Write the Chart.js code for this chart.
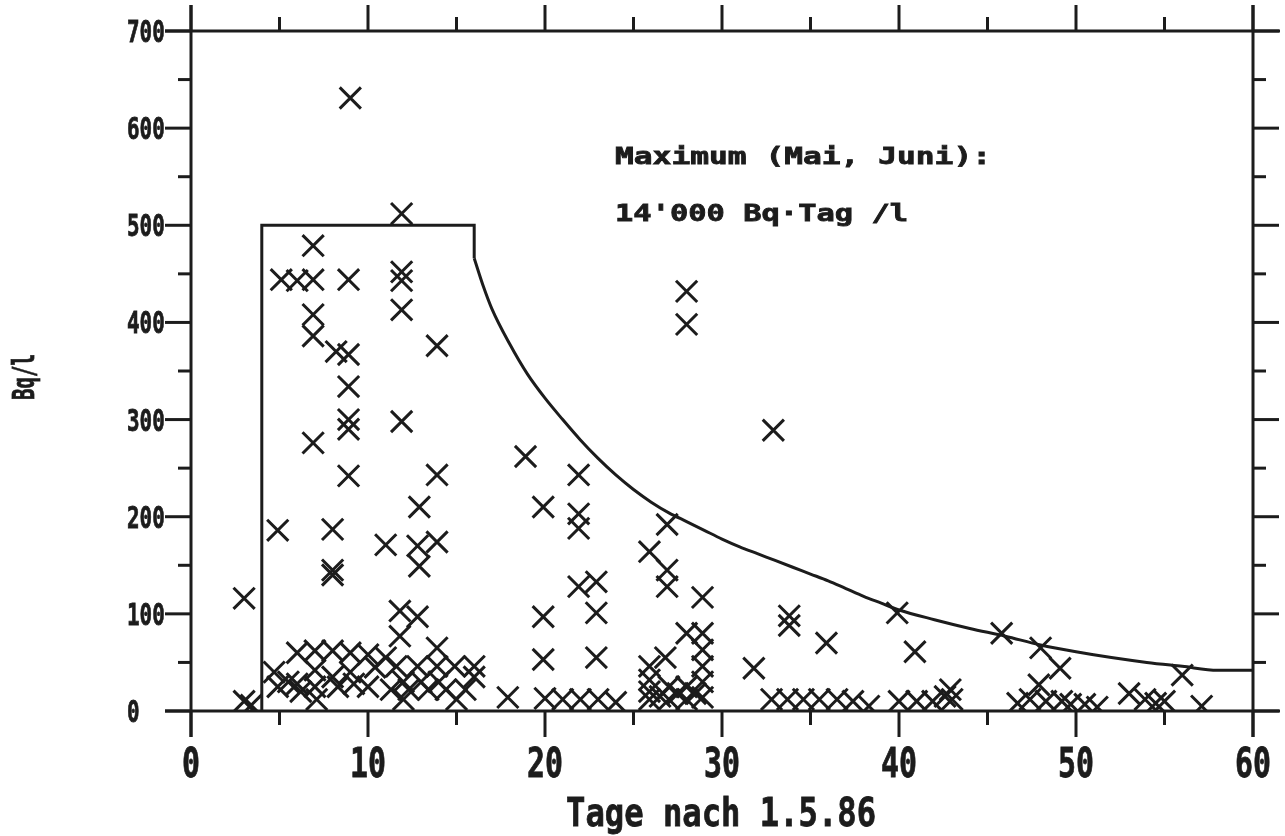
<!DOCTYPE html>
<html>
<head>
<meta charset="utf-8">
<script src="https://cdn.jsdelivr.net/npm/chart.js@4/dist/chart.umd.min.js"></script>
<style>
    html, body { margin: 0; padding: 0; background: #fff; }
    canvas { display: block; }
</style>
</head>
<body>
<canvas id="chart-bq" width="1285" height="836"></canvas>
<script>
// Messwerte: Tage nach 1.5.86 / Bq pro Liter
const messTage = [
    9, 11.9, 6.9, 5.1, 6.0, 6.9, 8.9, 11.9, 11.9, 11.9, 6.9, 6.9, 8.2, 8.9, 8.9, 8.9, 8.9,
    11.9, 6.9, 8.9, 13.9, 13.9, 18.9, 12.9, 19.9, 4.9, 8.0, 8.0, 8.0, 11.0, 12.8, 13.9, 12.9,
    3.0, 11.8, 12.8, 11.8, 19.9, 19.9, 21.9, 21.9, 21.9, 26.9, 25.9, 26.9, 26.9, 21.9, 22.9,
    22.9, 22.9, 28.9, 28.0, 28.0, 32.9, 28.0, 28.9, 28.9, 28.9, 28.9, 26.8, 25.9, 31.8,
    33.8, 33.8, 35.9, 39.9, 40.9, 45.8, 48.0, 49.1, 47.9, 56.0, 53.0,
    3.0, 3.4,
    4.7, 4.9, 5.5, 6.0, 6.0, 6.2, 7.0, 7.0, 7.0, 7.1, 8.0, 8.0, 8.3, 9.0, 9.0, 9.2,
    10.0, 10.0, 10.4, 11.0, 11.3, 11.6, 12.0, 12.3, 12.0, 12.8, 13.0, 13.4,
    13.9, 13.9, 14.0, 14.4, 14.9, 15.0, 15.5, 16.0, 16.0,
    17.9, 20.0, 21.0, 22.0, 23.0, 24.0,
    25.9, 25.9, 25.9, 26.5, 27.0, 27.0, 27.5, 28.0, 28.0, 28.5, 28.9,
    32.8, 33.7, 34.6, 35.5, 36.5, 37.4, 38.3,
    40.0, 41.0, 41.9, 42.9, 43.0, 42.6,
    46.7, 47.4, 48.3, 49.2, 49.7, 50.5, 51.2,
    53.9, 54.5, 55.0, 57.1
];
const messWerte = [
    631, 512, 479, 444, 443, 444, 444, 452, 443, 413, 408, 386, 370, 367, 334, 300, 290,
    298, 276, 242, 376, 243, 262, 210, 210, 186, 187, 145, 140, 171, 170, 174, 149,
    116, 103, 97, 77, 97, 53, 243, 203, 188, 192, 164, 145, 128, 128, 133,
    101, 55, 117, 432, 398, 289, 80, 80, 63, 46, 30, 55, 46, 44,
    98, 88, 70, 101, 61, 80, 65, 44, 27, 37, 18,
    10, 6,
    40, 25, 30, 60, 28, 20, 62, 42, 25, 12, 62, 35, 25, 60, 40, 28,
    58, 25, 45, 55, 22, 46, 30, 22, 12, 46, 30, 22,
    65, 46, 30, 22, 46, 12, 22, 46, 35,
    14, 13, 12, 12, 12, 9,
    32, 20, 12, 15, 25, 12, 18, 25, 12, 18, 14,
    12, 12, 12, 12, 12, 10, 5,
    10, 10, 10, 22, 12, 15,
    8, 12, 10, 10, 7, 7, 4,
    12, 8, 10, 5
];

// Grenze: Rechteck bis Tag 16, danach abklingende Kurve (Maximum Mai, Juni)
const kastenTage = [4, 4, 16, 16];
const kastenWerte = [0, 500, 500, 466];
const kurveTage = [16, 16.5, 17, 18, 19, 20, 21, 22, 23, 24, 25, 26, 27, 28, 29, 30, 31, 32,
    33, 34, 35, 36, 37, 38, 39, 40, 42, 44, 46, 48, 50, 52, 54, 56, 58, 60];
const kurveWerte = [466, 438, 414, 378, 347, 322, 300, 279, 260, 243, 228, 215, 204, 195,
    186, 177, 169, 162, 155, 148, 141, 134, 126, 118, 111, 104, 94, 85, 77, 68, 61, 55, 50, 46, 42, 42];

const xTicks = [0, 5, 10, 15, 20, 25, 30, 35, 40, 45, 50, 55, 60];
const yTicks = [0, 50, 100, 150, 200, 250, 300, 350, 400, 450, 500, 550, 600, 650, 700];
const xLabels = ['0', '10', '20', '30', '40', '50', '60'];
const yLabels = ['0', '100', '200', '300', '400', '500', '600', '700'];

const INK = '#1c1c1c';
const FONT = '"DejaVu Sans Mono", "Liberation Mono", monospace';

function line(ctx, x1, y1, x2, y2) {
    ctx.beginPath();
    ctx.moveTo(x1, y1);
    ctx.lineTo(x2, y2);
    ctx.stroke();
}

// draws bold mono text squeezed/stretched to a given width and cap height
function fitText(ctx, text, x, baseY, capH, width, align) {
    ctx.save();
    ctx.font = `bold ${capH / 0.73}px ${FONT}`;
    const w = ctx.measureText(text).width;
    ctx.translate(x, baseY);
    ctx.scale(width / w, 1);
    ctx.textAlign = align;
    ctx.textBaseline = 'alphabetic';
    ctx.fillStyle = INK;
    ctx.strokeStyle = INK;
    ctx.lineWidth = 0.8;
    ctx.fillText(text, 0, 0);
    ctx.strokeText(text, 0, 0);
    ctx.restore();
}

const rahmen = {
    id: 'rahmen',
    afterDatasetsDraw(chart) {
        const { ctx, chartArea: a, scales: { x, y } } = chart;
        ctx.save();
        ctx.strokeStyle = INK;
        ctx.lineWidth = 3;

        // Achsen, um die Strichlaenge verlaengert
        line(ctx, a.left - 26, a.top, a.right + 27, a.top);
        line(ctx, a.left - 26, a.bottom, a.right + 27, a.bottom);
        line(ctx, a.left, a.top - 26, a.left, a.bottom + 26);
        line(ctx, a.right, a.top - 26, a.right, a.bottom + 26);

        xTicks.forEach(v => {
            const px = x.getPixelForValue(v);
            const len = v % 10 === 0 ? 26 : 14;
            line(ctx, px, a.bottom, px, a.bottom + len);
            line(ctx, px, a.top, px, a.top - len);
        });
        yTicks.forEach(v => {
            const py = y.getPixelForValue(v);
            const len = v % 100 === 0 ? 26 : 13;
            line(ctx, a.left, py, a.left - len, py);
            line(ctx, a.right, py, a.right + len, py);
        });

        // Beschriftung
        xLabels.forEach(t => {
            const px = x.getPixelForValue(Number(t));
            fitText(ctx, t, px, 777, 30, t.length * 18, 'center');
        });
        yLabels.forEach(t => {
            const py = y.getPixelForValue(Number(t));
            fitText(ctx, t, 127, py + 11, 22, t.length * 12.6, 'left');
        });

        fitText(ctx, 'Tage nach 1.5.86', 721, 826, 28, 310, 'center');

        ctx.save();
        ctx.translate(34, 377);
        ctx.rotate(-Math.PI / 2);
        fitText(ctx, 'Bq/l', 0, 0, 22, 46, 'center');
        ctx.restore();

        fitText(ctx, 'Maximum (Mai, Juni):', 615, 164, 17, 376, 'left');
        fitText(ctx, '14\'000 Bq\u00B7Tag /l', 615, 221, 17, 293, 'left');

        ctx.restore();
    }
};

new Chart(document.getElementById('chart-bq').getContext('2d'), {
    type: 'scatter',
    data: {
        datasets: [
            {
                label: 'Grenze',
                data: kastenTage.map((t, i) => ({ x: t, y: kastenWerte[i] })),
                showLine: true,
                borderColor: INK,
                borderWidth: 3,
                pointRadius: 0,
                tension: 0
            },
            {
                label: 'Grenze Abklingen',
                data: kurveTage.map((t, i) => ({ x: t, y: kurveWerte[i] })),
                showLine: true,
                borderColor: INK,
                borderWidth: 3,
                pointRadius: 0,
                cubicInterpolationMode: 'monotone'
            },
            {
                label: 'Messwerte',
                data: messTage.map((t, i) => ({ x: t, y: messWerte[i] })),
                pointStyle: 'crossRot',
                pointRadius: 15,
                borderColor: INK,
                borderWidth: 3
            }
        ]
    },
    options: {
        responsive: false,
        animation: false,
        devicePixelRatio: 1,
        layout: { padding: { left: 191, right: 32, top: 31, bottom: 125 } },
        plugins: {
            legend: { display: false },
            tooltip: { enabled: false }
        },
        scales: {
            x: { type: 'linear', min: 0, max: 60, display: false },
            y: { type: 'linear', min: 0, max: 700, display: false }
        }
    },
    plugins: [rahmen]
});
</script>
</body>
</html>
